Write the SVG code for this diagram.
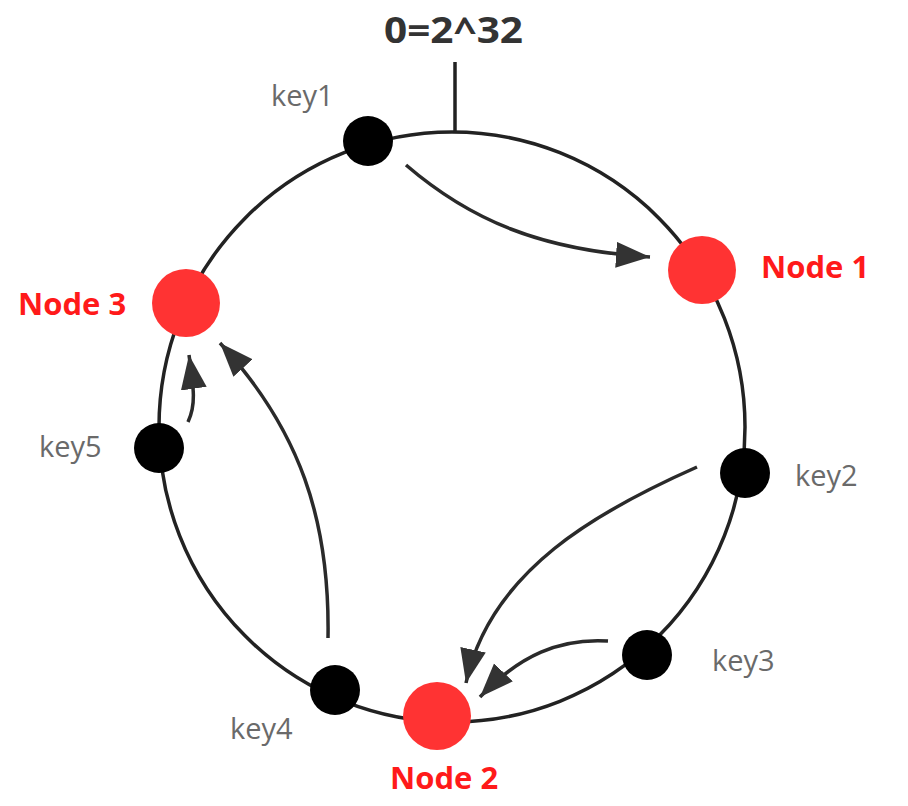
<svg xmlns="http://www.w3.org/2000/svg" width="908" height="806" viewBox="0 0 908 806">
  <style>
    .ring { fill: none; stroke: #222; stroke-width: 3.5; }
    .conn { fill: none; stroke: #2a2a2a; stroke-width: 3.5; marker-end: url(#arrow); }
    .key { fill: #000; }
    .srv { fill: #ff3333; }
    .klabel { font-family: "Open Sans", "DejaVu Sans", sans-serif; font-size: 29px; fill: #6a6a6a; }
    .nlabel { font-family: "Open Sans", "DejaVu Sans", sans-serif; font-size: 31px; font-weight: bold; fill: #ff1a1a; }
    .title { font-family: "Open Sans", "DejaVu Sans", sans-serif; font-size: 35px; font-weight: bold; fill: #333; }
  </style>
  <defs>
    <marker id="arrow" markerUnits="userSpaceOnUse" markerWidth="36" markerHeight="28" refX="34" refY="13" orient="auto">
      <path d="M0,0 L34,13 L0,26 Z" fill="#333"/>
    </marker>
  </defs>
  <rect width="908" height="806" fill="#fff"/>
  <g id="ring">
    <ellipse class="ring" cx="452" cy="427" rx="293" ry="295"/>
    <line x1="455" y1="62" x2="455" y2="132" stroke="#222" stroke-width="3.5"/>
    <text class="title" x="384" y="43" textLength="139" lengthAdjust="spacingAndGlyphs">0=2^32</text>
  </g>
  <g id="connectors">
    <path class="conn" d="M406,165 C470,220 540,250 650,257"/>
    <path class="conn" d="M697,467 C600,510 490,570 466,683"/>
    <path class="conn" d="M608,641 C560,638 520,655 480,697"/>
    <path class="conn" d="M328,638 C330,520 300,430 220,343"/>
    <path class="conn" d="M188,422 C196,405 194,390 189,355"/>
  </g>
  <g id="key1">
    <circle class="key" cx="368" cy="141" r="25"/>
    <text class="klabel" x="271" y="106">key1</text>
  </g>
  <g id="node1">
    <circle class="srv" cx="702" cy="270" r="34"/>
    <text class="nlabel" x="761" y="278">Node 1</text>
  </g>
  <g id="key2">
    <circle class="key" cx="745" cy="473" r="25"/>
    <text class="klabel" x="795" y="486">key2</text>
  </g>
  <g id="key3">
    <circle class="key" cx="647" cy="655" r="25"/>
    <text class="klabel" x="712" y="671">key3</text>
  </g>
  <g id="node2">
    <circle class="srv" cx="437" cy="716" r="34"/>
    <text class="nlabel" x="390" y="789">Node 2</text>
  </g>
  <g id="key4">
    <circle class="key" cx="335" cy="690" r="25"/>
    <text class="klabel" x="230" y="739">key4</text>
  </g>
  <g id="key5">
    <circle class="key" cx="159" cy="448" r="25"/>
    <text class="klabel" x="39" y="457">key5</text>
  </g>
  <g id="node3">
    <circle class="srv" cx="186" cy="303" r="34"/>
    <text class="nlabel" x="18" y="315">Node 3</text>
  </g>
</svg>
